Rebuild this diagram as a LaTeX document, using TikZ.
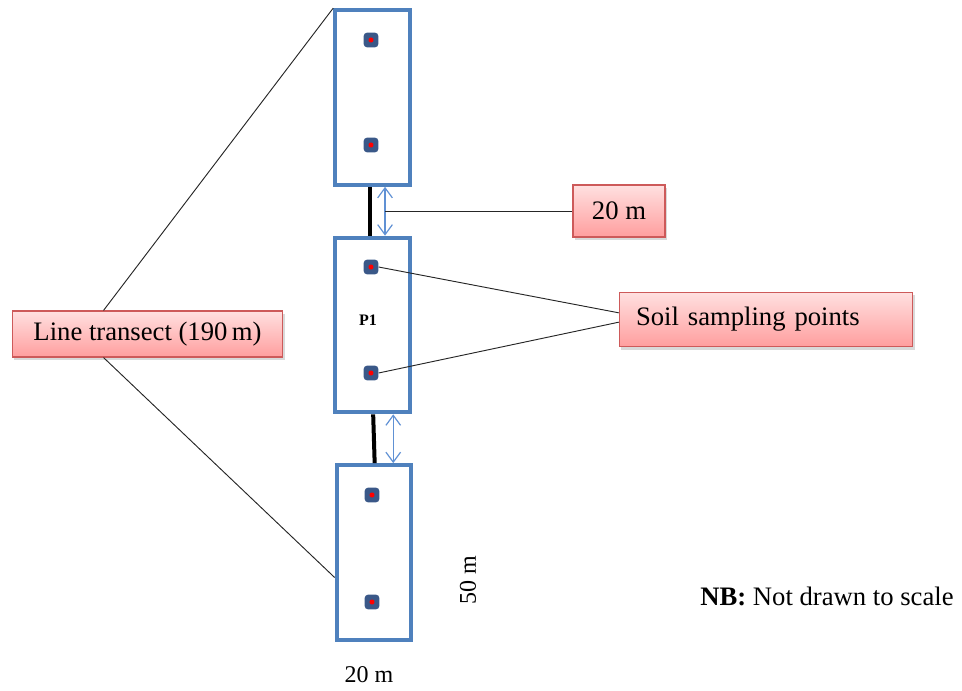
\documentclass[tikz,border=0pt]{standalone}
\usepackage{fontspec}
\setmainfont{Liberation Serif}
\usetikzlibrary{arrows.meta, calc, shadows}

\definecolor{plotblue}{RGB}{79,129,189}
\definecolor{dotblue}{RGB}{58,88,136}
\definecolor{gapblue}{RGB}{96,145,212}
\definecolor{noteedge}{RGB}{205,90,90}

\tikzset{
  plot/.style={draw=plotblue, line width=3pt, minimum width=56pt, minimum height=131pt, inner sep=0pt},
  spot/.style={fill=dotblue, rounded corners=2.5pt, minimum size=11pt, inner sep=0pt,
    path picture={\fill[red] (path picture bounding box.center) circle (1.9pt);}},
  note/.style={draw=noteedge, line width=0.8pt, top color={rgb,255:red,255;green,224;blue,224},
    bottom color={rgb,255:red,255;green,158;blue,158},
    drop shadow={opacity=0.3, shadow xshift=1.5pt, shadow yshift=-2pt},
    font=\fontsize{20}{24}\selectfont, inner sep=0pt},
  gap/.style={gapblue, line width=0.9pt, {Straight Barb[length=7.5pt,width=11pt]}-{Straight Barb[length=7.5pt,width=11pt]}},
  lead/.style={black!85, line width=0.7pt},
}

\begin{document}
\begin{tikzpicture}[x=0.75pt, y=-0.75pt]
    \useasboundingbox (0,0) rectangle (962,691);

    % plots along the transect
    \node[plot] (top) at (372.5,97.5) {};
    \node[plot] (p1) at (372.5,325) {};
    \node[plot] (low) at (374,552.5) {};

    \draw[line width=3pt] ([xshift=-2pt]top.south) -- ([xshift=-2pt]p1.north);
    \draw[line width=3pt] ([xshift=0.5pt]p1.south) -- ([xshift=0.5pt]low.north);

    \node[spot] (s1) at (371,40) {};
    \node[spot] (s2) at (371,145) {};
    \node[spot] (s3) at (371,267) {};
    \node[spot] (s4) at (371,373) {};
    \node[spot] (s5) at (372,495) {};
    \node[spot] (s6) at (372,602) {};

    \node[font=\bfseries\fontsize{12}{14}\selectfont] (lab) at ($(p1.center)+(-3.4pt,3.75pt)$) {P1};

    \coordinate (gapA) at ($(top.south)!0.5!(p1.north)+(9.4pt,0)$);
    \coordinate (gapB) at ($(p1.south)!0.5!(low.north)+(15pt,0)$);
    \draw[gap] (gapA |- top.south) -- (gapA |- p1.north);
    \draw[gap] (gapB |- p1.south) -- (gapB |- low.north);

    % call-outs
    \node[note, minimum width=69pt, minimum height=39pt] (dist) at (619,211) {20 m};
    \node[note, minimum height=41pt, text width=195pt, inner xsep=12.5pt, align=left] (soil) at (766,319.5) {Soil sampling points};
    \node[note, minimum width=203pt, minimum height=34.5pt] (transect) at (147.5,334) {Line transect (190\,m)};

    \draw[lead] (gapA |- dist.west) -- (dist.west);
    \draw[lead] (s3.east) -- ([yshift=5pt]soil.west);
    \draw[lead] (s4.east) -- ([yshift=-2pt]soil.west);
    \draw[lead] ([xshift=-33pt]transect.north) -- (top.north west);
    \draw[lead] ([xshift=-33pt]transect.south) -- ($(low.north west)!0.64!(low.south west)$);

    \node[font=\fontsize{18}{22}\selectfont, rotate=90] (len) at (468,580) {50 m};
    \node[font=\fontsize{18}{22}\selectfont] (wid) at (369,675) {20 m};
    \node[font=\fontsize{20}{24}\selectfont] (nb) at (827,596) {\textbf{NB:} Not drawn to scale};
\end{tikzpicture}
\end{document}
